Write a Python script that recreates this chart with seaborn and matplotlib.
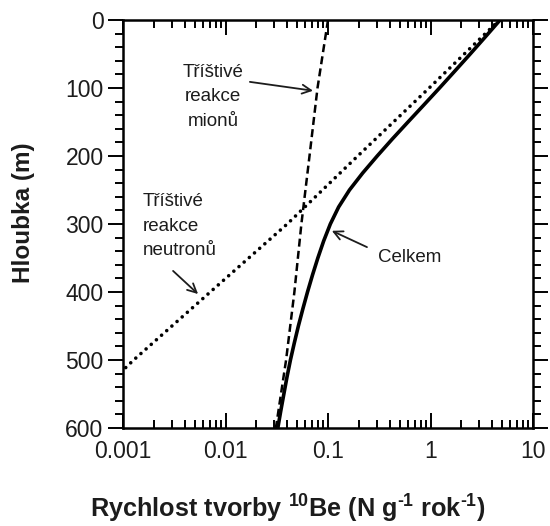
import matplotlib
matplotlib.use("Agg")
import matplotlib.pyplot as plt
import pandas as pd
import seaborn as sns
from matplotlib.ticker import MultipleLocator, LogLocator, NullFormatter

# Production rate of 10Be (atoms per gram per year) versus depth (m)
neutron_depth = [0, 100, 200, 300, 400, 500, 515]
neutron_rate = [4.7, 0.97, 0.195, 0.040, 0.0071, 0.00127, 0.001]

muon_depth = [0, 100, 200, 300, 400, 500, 600]
muon_rate = [0.100, 0.079, 0.066, 0.055, 0.047, 0.039, 0.031]

total_depth = [0, 25, 50, 75, 100, 125, 150, 175, 200, 225, 250, 275, 300,
               325, 350, 375, 400, 425, 450, 475, 500, 525, 550, 575, 600]
total_rate = [4.77, 3.42, 2.44, 1.73, 1.224, 0.860, 0.603, 0.424, 0.302,
              0.218, 0.162, 0.127, 0.1054, 0.0907, 0.0796, 0.0706, 0.0631,
              0.0568, 0.0514, 0.0469, 0.0430, 0.0398, 0.0371, 0.0346, 0.0324]

x_ticks = [0.001, 0.01, 0.1, 1, 10]
x_tick_labels = ["0.001", "0.01", "0.1", "1", "10"]
y_ticks = [0, 100, 200, 300, 400, 500, 600]

sns.set_theme(style="ticks")
plt.rcParams["font.family"] = ["Liberation Sans", "DejaVu Sans"]
plt.rcParams["mathtext.fontset"] = "custom"
plt.rcParams["mathtext.rm"] = "Liberation Sans"
plt.rcParams["mathtext.bf"] = "Liberation Sans:bold"
plt.rcParams["mathtext.default"] = "bf"

INK = "#1c1c1c"

neutrons = pd.DataFrame({"rate": neutron_rate, "depth": neutron_depth})
muons = pd.DataFrame({"rate": muon_rate, "depth": muon_depth})
total = pd.DataFrame({"rate": total_rate, "depth": total_depth})

fig = plt.figure(figsize=(5.5, 5.26), dpi=100)
ax = fig.add_axes([123 / 550, 1 - 428 / 526, 410 / 550, 408 / 526])
ax.set_xscale("log")

sns.lineplot(data=neutrons, x="rate", y="depth", sort=False, estimator=None,
             color="black", linewidth=2.6, linestyle=(0, (0.01, 1.9)),
             dash_capstyle="round", ax=ax)
sns.lineplot(data=muons, x="rate", y="depth", sort=False, estimator=None,
             color="black", linewidth=1.8, linestyle=(0, (3.2, 1.7)), ax=ax)
sns.lineplot(data=total, x="rate", y="depth", sort=False, estimator=None,
             color="black", linewidth=2.6, solid_capstyle="butt",
             solid_joinstyle="round", ax=ax)

ax.set_xlim(0.001, 10)
ax.set_ylim(600, 0)

ax.set_xticks(x_ticks)
ax.set_xticklabels(x_tick_labels)
ax.xaxis.set_minor_locator(LogLocator(base=10, subs=range(2, 10)))
ax.xaxis.set_minor_formatter(NullFormatter())
ax.set_yticks(y_ticks)
ax.yaxis.set_minor_locator(MultipleLocator(20))

ax.tick_params(axis="x", which="both", direction="in", top=True, bottom=True,
               width=1.4, color="black", labelsize=16.5, labelcolor=INK, pad=9)
ax.tick_params(axis="x", which="major", length=11)
ax.tick_params(axis="x", which="minor", length=5.5)
ax.tick_params(axis="y", which="both", direction="out", left=True, right=True,
               width=1.4, color="black", labelsize=16.5, labelcolor=INK, pad=3)
ax.tick_params(axis="y", which="major", length=11)
ax.tick_params(axis="y", which="minor", length=5.5)

for side in ["left", "right", "top", "bottom"]:
    ax.spines[side].set_visible(True)
    ax.spines[side].set_linewidth(1.8)
    ax.spines[side].set_color("black")

ax.set_xlabel("Rychlost tvorby $^{10}$Be (N g$^{\u20101}$ rok$^{\u20101}$)",
              fontsize=18.2, fontweight="bold", color=INK)
ax.xaxis.set_label_coords(0.402, -0.158)
ax.set_ylabel("Hloubka (m)", fontsize=17.5, fontweight="bold", color=INK)
ax.yaxis.set_label_coords(-0.215, 0.527)

arrow = dict(arrowstyle="->", lw=1.3, color=INK, mutation_scale=16,
             shrinkA=0, shrinkB=0)

ax.text(0.00755, 113, "Tříštivé\nreakce\nmionů", ha="center", va="center",
        fontsize=13.5, color=INK, linespacing=1.6)
ax.annotate("", xy=(0.0714, 104), xytext=(0.0173, 91), arrowprops=arrow)

ax.text(0.00157, 303, "Tříštivé\nreakce\nneutronů", ha="left", va="center",
        fontsize=13.5, color=INK, linespacing=1.6)
ax.annotate("", xy=(0.0054, 403), xytext=(0.00308, 369), arrowprops=arrow)

ax.text(0.63, 349, "Celkem", ha="center", va="center", fontsize=13.5, color=INK)
ax.annotate("", xy=(0.109, 310), xytext=(0.24, 334), arrowprops=arrow)

fig.savefig("out.png", dpi=100, facecolor="white")
